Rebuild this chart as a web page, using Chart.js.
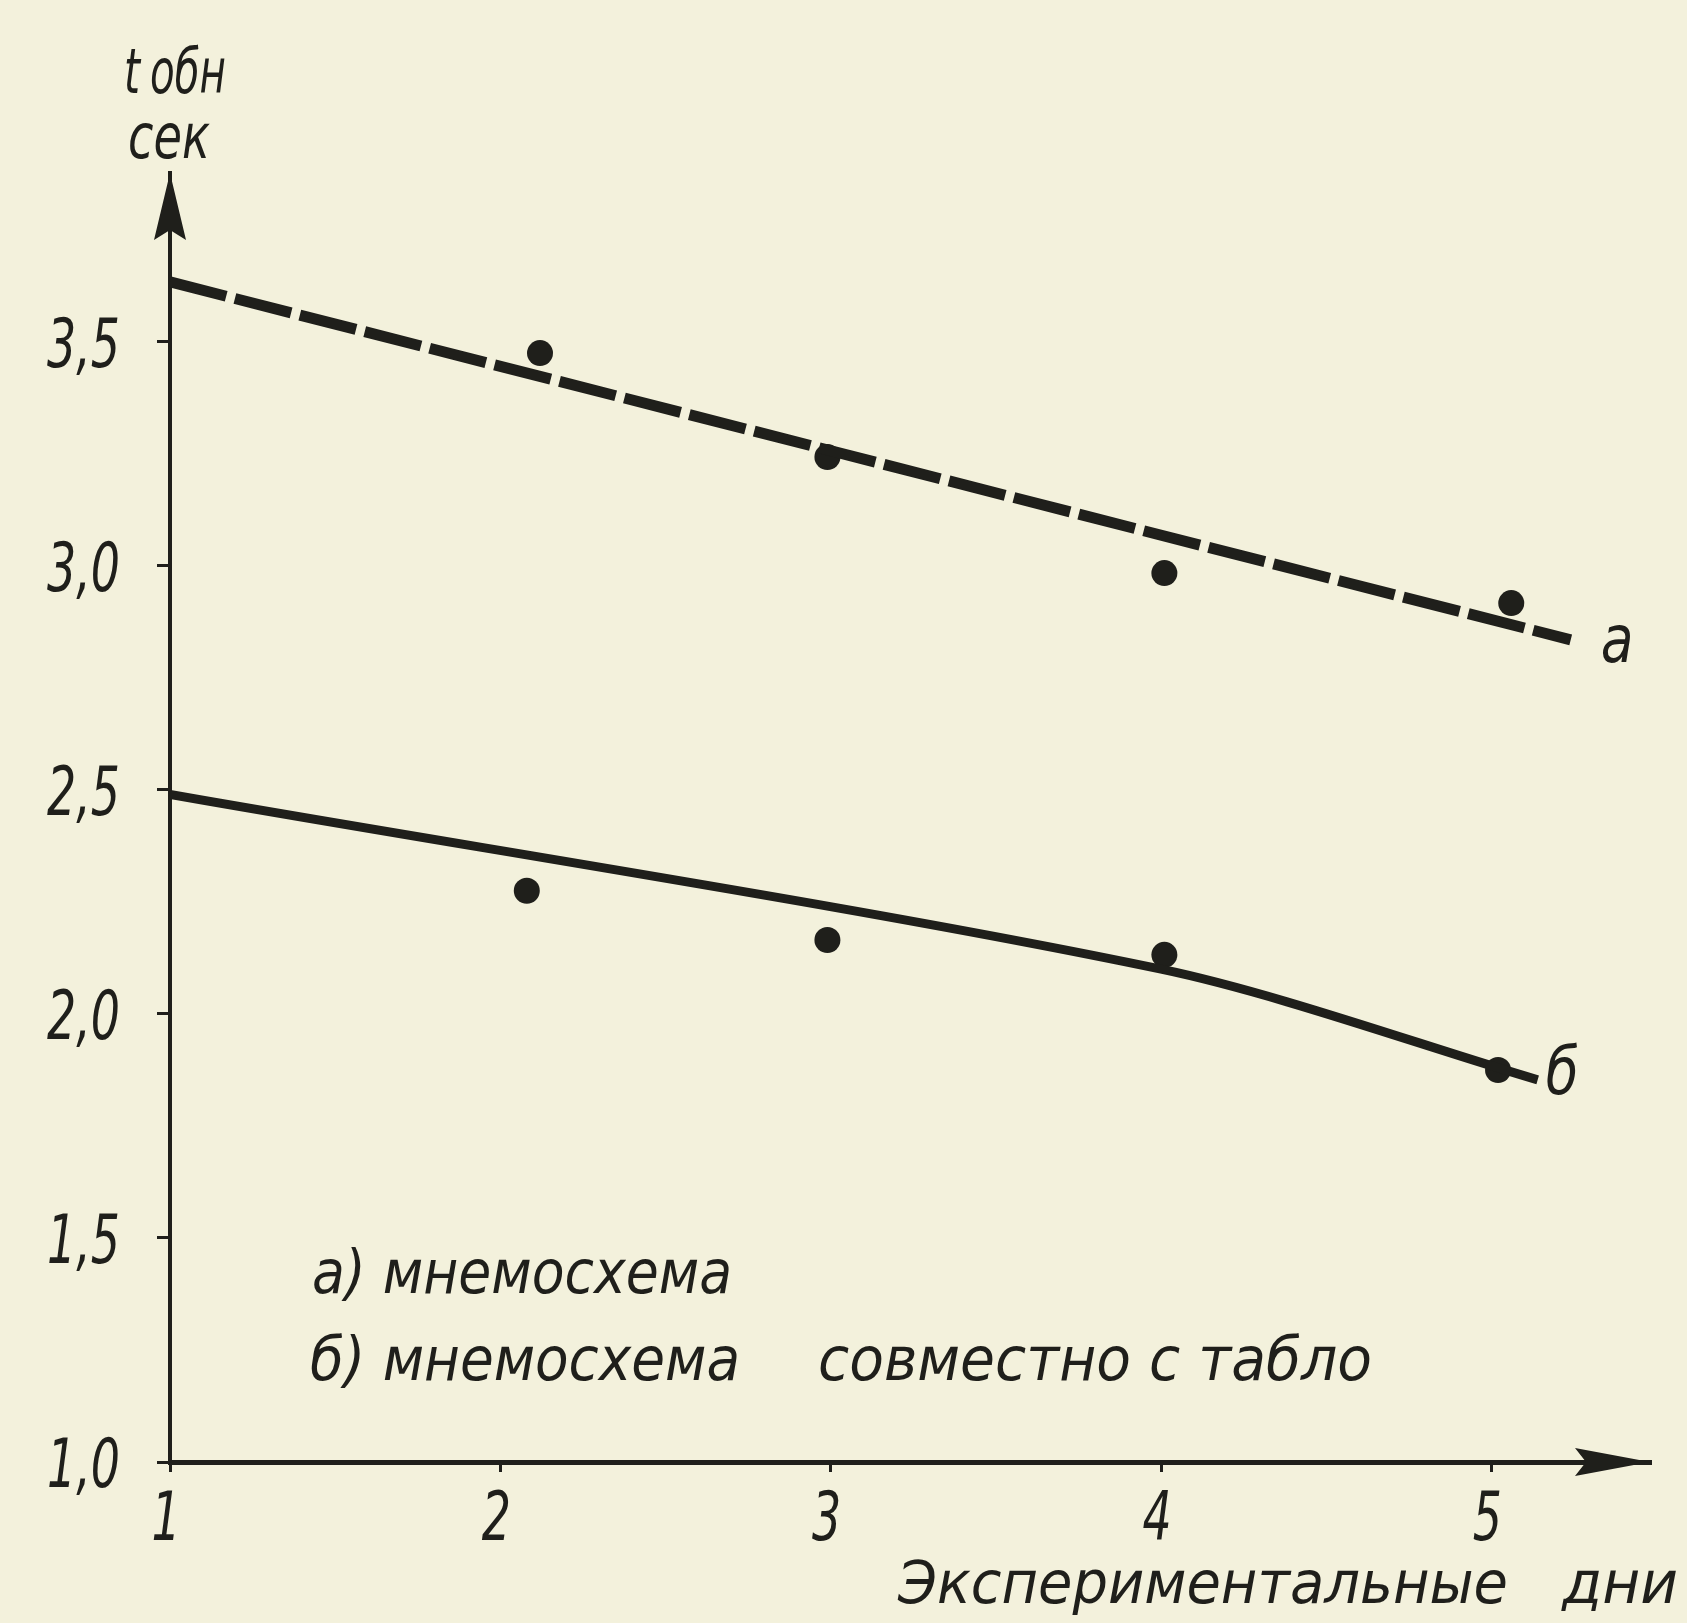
<!DOCTYPE html>
<html lang="ru">
<head>
<meta charset="utf-8">
<title>t обн — экспериментальные дни</title>
<script src="https://cdn.jsdelivr.net/npm/chart.js@4.4.1/dist/chart.umd.min.js"></script>
<style>
  html, body { margin: 0; padding: 0; background: #f3f1dc; }
  #wrap { width: 1687px; height: 1623px; }
</style>
</head>
<body>
<div id="wrap"><canvas id="chart" width="1687" height="1623"></canvas></div>
<script>
// --- data ---
const xTicks = [1, 2, 3, 4, 5];
const yTicks = [1.0, 1.5, 2.0, 2.5, 3.0, 3.5];

// a) мнемосхема  (dashed line + points)
const daysA = [2.12, 2.99, 4.01, 5.06];
const timeA = [3.475, 3.243, 2.984, 2.917];
const lineAX = [1, 5.24];
const lineAY = [3.634, 2.835];

// б) мнемосхема совместно с табло  (solid line + points)
const daysB = [2.08, 2.99, 4.01, 5.02];
const timeB = [2.275, 2.165, 2.132, 1.875];
const lineBX = [1, 4.0, 5.14];
const lineBY = [2.49, 2.10, 1.853];

const xMin = 1, xMax = 5.48;
const yMin = 1.0, yMax = 3.877;

const INK = "#1f1f1b";
const PAPER = "#f3f1dc";
const FONT = "'DejaVu Sans Condensed', 'DejaVu Sans', sans-serif";

const pts = (xs, ys) => xs.map((x, i) => ({ x, y: ys[i] }));
const fmt = v => Number(v).toFixed(1).replace(".", ",");

// narrow drafting lettering: squeeze text horizontally
function squeezed(ctx, text, x, y, sx, align) {
  ctx.save();
  ctx.translate(x, y);
  ctx.scale(sx, 1);
  ctx.textAlign = align || "left";
  ctx.fillText(text, 0, 0);
  ctx.restore();
}

// fit text between two x positions
function fitted(ctx, text, x0, x1, y) {
  const w = ctx.measureText(text).width;
  squeezed(ctx, text, x0, y, (x1 - x0) / w, "left");
}

/* =========================
   PAPER, ARROWS, TEXT
========================= */

const paper = {
  id: "paper",
  beforeDraw(c) {
    const ctx = c.ctx;
    ctx.save();
    ctx.fillStyle = PAPER;
    ctx.fillRect(0, 0, c.width, c.height);
    ctx.restore();
  }
};

const drawing = {
  id: "drawing",
  afterDraw(c) {
    const ctx = c.ctx;
    const { left, right, top, bottom } = c.chartArea;
    const sx = c.scales.x, sy = c.scales.y;
    ctx.save();
    ctx.fillStyle = INK;
    ctx.textBaseline = "alphabetic";

    // arrow heads
    ctx.beginPath();
    ctx.moveTo(left, top);
    ctx.lineTo(left - 16, top + 67);
    ctx.lineTo(left, top + 57);
    ctx.lineTo(left + 16, top + 67);
    ctx.closePath();
    ctx.fill();

    ctx.beginPath();
    ctx.moveTo(right, bottom);
    ctx.lineTo(right - 75, bottom - 14);
    ctx.lineTo(right - 64, bottom);
    ctx.lineTo(right - 75, bottom + 14);
    ctx.closePath();
    ctx.fill();

    // tick labels
    ctx.font = "italic 68px " + FONT;
    yTicks.forEach(v => {
      squeezed(ctx, fmt(v), left - 50, sy.getPixelForValue(v) + 25, 0.75, "right");
    });
    xTicks.forEach(v => {
      squeezed(ctx, String(v), sx.getPixelForValue(v) - 4, bottom + 78, 0.75, "center");
    });

    // axis titles
    ctx.font = "italic 62px " + FONT;
    fitted(ctx, "t", left - 46, left - 30, 93);
    fitted(ctx, "обн", left - 20, left + 56, 93);
    fitted(ctx, "сек", left - 42, left + 40, 158);

    ctx.font = "italic 58px " + FONT;
    fitted(ctx, "Экспериментальные", 898, 1508, 1603);
    fitted(ctx, "дни", 1562, 1678, 1603);

    // curve labels at the line ends
    ctx.font = "italic 66px " + FONT;
    squeezed(ctx, "а", sx.getPixelForValue(lineAX[1]) + 30, sy.getPixelForValue(lineAY[1]) + 22, 0.9);
    squeezed(ctx, "б", sx.getPixelForValue(lineBX[2]) + 8, sy.getPixelForValue(lineBY[2]) + 14, 0.9);

    // key
    ctx.font = "italic 60px " + FONT;
    fitted(ctx, "а) мнемосхема", 312, 732, 1293);
    fitted(ctx, "б) мнемосхема", 310, 740, 1380);
    fitted(ctx, "совместно с табло", 818, 1372, 1380);

    ctx.restore();
  }
};

/* =========================
   CHART
========================= */

const hidden = "rgba(0,0,0,0)";

const chart = new Chart(document.getElementById("chart"), {
  type: "scatter",
  data: {
    datasets: [
      {
        label: "а",
        data: pts(lineAX, lineAY),
        showLine: true,
        borderColor: INK,
        borderWidth: 11,
        borderDash: [58, 9],
        borderCapStyle: "butt",
        pointRadius: 0,
        fill: false
      },
      {
        label: "б",
        data: pts(lineBX, lineBY),
        showLine: true,
        borderColor: INK,
        borderWidth: 9,
        pointRadius: 0,
        tension: 0.3,
        fill: false
      },
      {
        label: "а точки",
        data: pts(daysA, timeA),
        pointRadius: 13,
        pointBackgroundColor: INK,
        pointBorderWidth: 0
      },
      {
        label: "б точки",
        data: pts(daysB, timeB),
        pointRadius: 13,
        pointBackgroundColor: INK,
        pointBorderWidth: 0
      }
    ]
  },
  options: {
    responsive: false,
    animation: false,
    devicePixelRatio: 1,
    layout: { padding: { left: 0, top: 173, right: 37, bottom: 0 } },
    plugins: {
      legend: { display: false },
      tooltip: { enabled: false }
    },
    scales: {
      x: {
        type: "linear",
        min: xMin,
        max: xMax,
        afterFit: s => { s.height = 161; },
        afterBuildTicks: s => { s.ticks = xTicks.map(v => ({ value: v })); },
        border: { display: true, color: INK, width: 5 },
        grid: { drawOnChartArea: false, drawTicks: true, tickLength: 10, color: INK, lineWidth: 3 },
        ticks: { color: hidden, font: { family: FONT, size: 20 } }
      },
      y: {
        type: "linear",
        min: yMin,
        max: yMax,
        afterFit: s => { s.width = 170; },
        afterBuildTicks: s => { s.ticks = yTicks.map(v => ({ value: v })); },
        border: { display: true, color: INK, width: 4 },
        grid: { drawOnChartArea: false, drawTicks: true, tickLength: 13, color: INK, lineWidth: 3 },
        ticks: { color: hidden, font: { family: FONT, size: 20 }, callback: fmt }
      }
    }
  },
  plugins: [paper, drawing]
});
</script>
</body>
</html>
